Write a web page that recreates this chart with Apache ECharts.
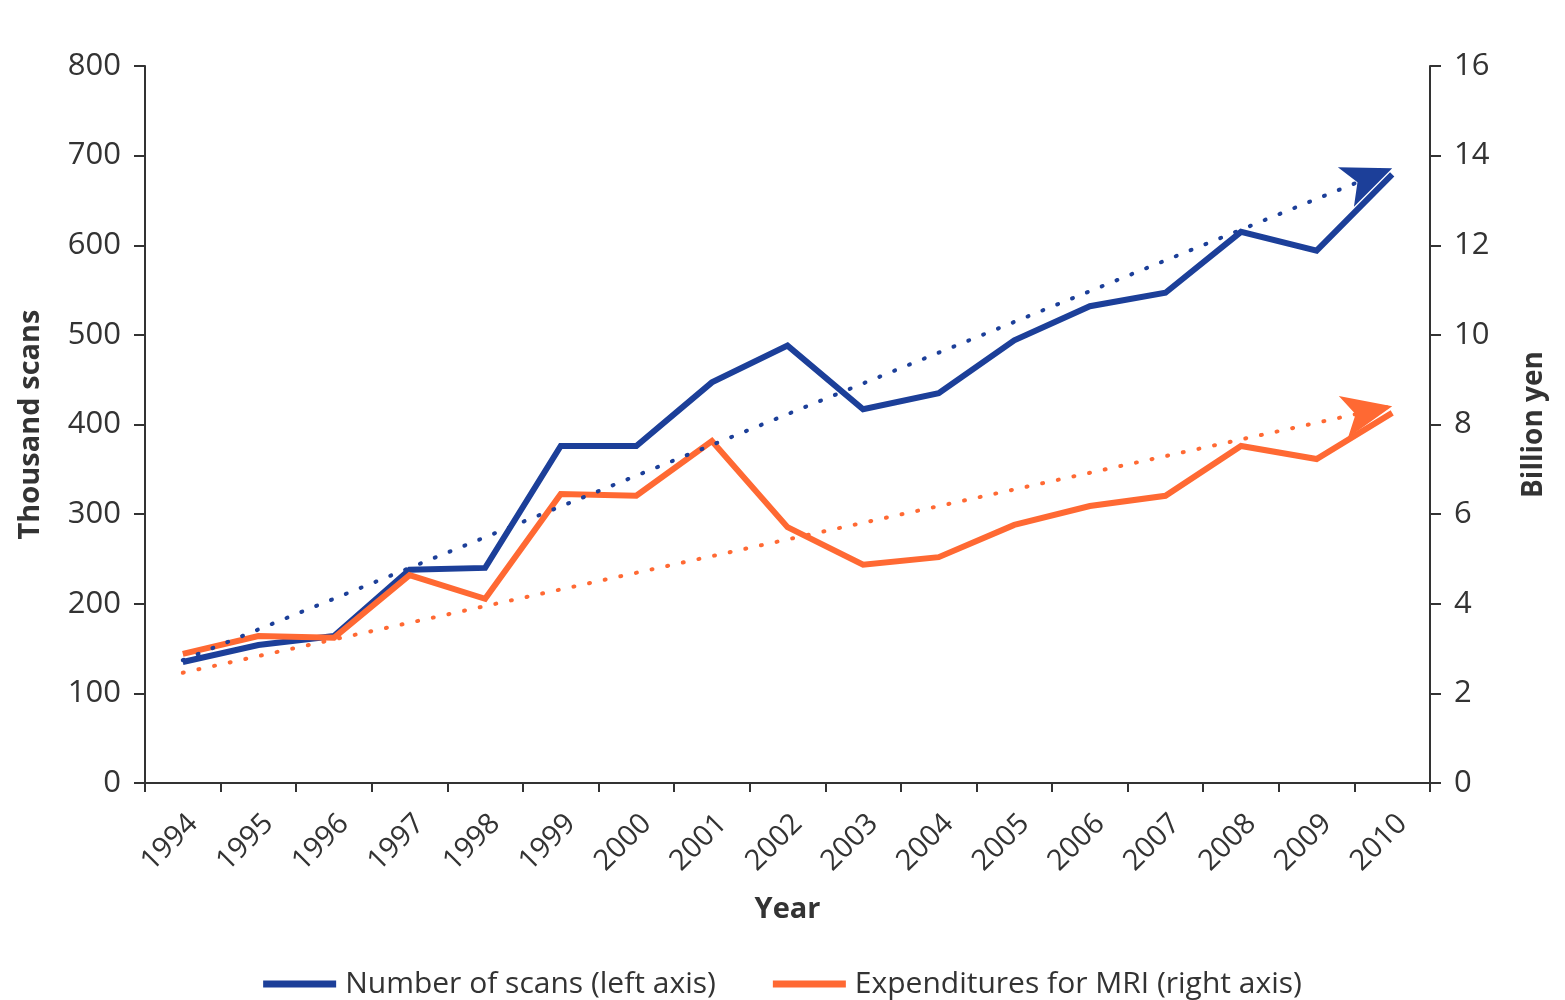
<!DOCTYPE html>
<html>
<head>
<meta charset="utf-8">
<script src="https://cdn.jsdelivr.net/npm/echarts@6/dist/echarts.min.js"></script>
<style>
  html, body { margin: 0; padding: 0; background: #fff; }
  #chart { width: 1565px; height: 1000px; }
</style>
</head>
<body>
<div id="chart"></div>
<script>
// MRI scans (thousands, left axis) and MRI expenditures (billion yen, right axis)
const years = ['1994','1995','1996','1997','1998','1999','2000','2001','2002',
               '2003','2004','2005','2006','2007','2008','2009','2010'];
const scans = [135, 154, 164, 238, 240, 376, 376, 447, 488,
               417, 435, 494, 532, 547, 615, 594, 679];
const expenditures = [2.88, 3.28, 3.24, 4.64, 4.11, 6.45, 6.41, 7.63, 5.71,
                      4.87, 5.04, 5.76, 6.18, 6.41, 7.52, 7.23, 8.26];
// Trend arrows: start (1994) and end (2010) values
const scansTrend = [137, 686];
const expTrend = [2.46, 8.41];
const leftTicks = { min: 0, max: 800, interval: 100 };
const rightTicks = { min: 0, max: 16, interval: 2 };

const BLUE = '#1c3f99';
const ORANGE = '#ff6933';
const INK = '#333333';
const FONT = '"Open Sans", "Noto Sans", sans-serif';

function trend(vals) {
  return {
    silent: true,
    symbol: ['none', 'arrow'],
    symbolSize: [32, 50],
    label: { show: false },
    emphasis: { disabled: true },
    lineStyle: { type: [1, 15], width: 4, cap: 'round', opacity: 1 },
    data: [[{ coord: [years[0], vals[0]] }, { coord: [years[years.length - 1], vals[1]] }]]
  };
}

const chart = echarts.init(document.getElementById('chart'));
chart.setOption({
  animation: false,
  textStyle: { fontFamily: FONT, color: INK },
  grid: { left: 145, right: 135, top: 66, bottom: 217 },
  legend: {
    bottom: -4,
    left: 'center',
    itemWidth: 73,
    itemHeight: 7,
    itemGap: 57,
    icon: 'rect',
    textStyle: { fontSize: 30, color: INK, fontFamily: FONT, padding: [0, 0, 0, 4] },
    data: ['Number of scans (left axis)', 'Expenditures for MRI (right axis)']
  },
  xAxis: {
    type: 'category',
    data: years,
    boundaryGap: true,
    name: 'Year',
    nameLocation: 'middle',
    nameGap: 112,
    nameTextStyle: { fontSize: 29, fontWeight: 'bold', color: INK },
    axisLine: { lineStyle: { color: INK, width: 2 } },
    axisTick: { show: true, length: 9, lineStyle: { color: INK, width: 2 } },
    axisLabel: { rotate: 45, fontSize: 29, color: INK, margin: 26, interval: 0, verticalAlign: 'top' },
    splitLine: { show: false }
  },
  yAxis: [
    {
      type: 'value',
      min: leftTicks.min, max: leftTicks.max, interval: leftTicks.interval,
      position: 'left',
      name: 'Thousand scans',
      nameLocation: 'middle',
      nameRotate: 90,
      nameGap: 100,
      nameTextStyle: { fontSize: 29, fontWeight: 'bold', color: INK },
      axisLine: { show: true, lineStyle: { color: INK, width: 2 } },
      axisTick: { show: true, length: 11, lineStyle: { color: INK, width: 2 } },
      axisLabel: { fontSize: 31, color: INK, margin: 24 },
      splitLine: { show: false }
    },
    {
      type: 'value',
      min: rightTicks.min, max: rightTicks.max, interval: rightTicks.interval,
      position: 'right',
      name: 'Billion yen',
      nameLocation: 'middle',
      nameRotate: 90,
      nameGap: 90,
      nameTextStyle: { fontSize: 28, fontWeight: 'bold', color: INK },
      axisLine: { show: true, lineStyle: { color: INK, width: 2 } },
      axisTick: { show: true, length: 11, lineStyle: { color: INK, width: 2 } },
      axisLabel: { fontSize: 31, color: INK, margin: 24 },
      splitLine: { show: false }
    }
  ],
  series: [
    {
      name: 'Number of scans (left axis)',
      type: 'line',
      yAxisIndex: 0,
      data: scans,
      symbol: 'none',
      color: BLUE,
      lineStyle: { color: BLUE, width: 6, join: 'miter' },
      markLine: trend(scansTrend)
    },
    {
      name: 'Expenditures for MRI (right axis)',
      type: 'line',
      yAxisIndex: 1,
      data: expenditures,
      symbol: 'none',
      color: ORANGE,
      lineStyle: { color: ORANGE, width: 6, join: 'miter' },
      markLine: trend(expTrend)
    }
  ]
});
</script>
</body>
</html>
